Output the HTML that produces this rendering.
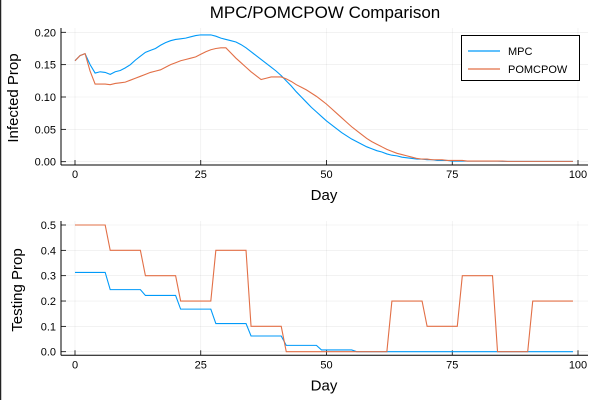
<!DOCTYPE html>
<html><head><meta charset="utf-8"><style>
html,body{margin:0;padding:0;background:#fff;}
svg{display:block;font-family:"Liberation Sans","DejaVu Sans",sans-serif;}
</style></head><body>
<svg id="c" width="600" height="400" viewBox="0 0 600 400">
<rect x="0" y="0" width="600" height="400" fill="#fff"/>
<line x1="0.5" y1="0" x2="0.5" y2="400" stroke="#222" stroke-width="1.5"/>
<text x="325" y="18" font-size="17" text-anchor="middle" fill="#000">MPC/POMCPOW Comparison</text>
</svg>
<script>
const days = Array.from({length:100},(_,i)=>i);
const mpcInfected = [.156,.164,.167,.150,.137,.139,.138,.135,.139,.141,.145,.150,.157,.163,.169,.172,.175,.180,.184,.187,.189,.190,.191,.193,.195,.196,.196,.196,.194,.191,.189,.187,.185,.181,.176,.170,.164,.158,.152,.146,.140,.133,.125,.117,.108,.100,.092,.084,.077,.070,.063,.057,.051,.045,.040,.035,.031,.027,.023,.020,.017,.015,.012,.010,.009,.007,.006,.005,.004,.004,.003,.003,.002,.002,.002,.001,.001,.001,.001,.001,.001,.001,.001,.001,.001,.0005,.0005,.0005,.0005,.0005,.0005,.0005,.0005,.0005,.0005,.0005,.0005,.0005,.0005,.0005];
const pomInfected = [.156,.164,.167,.140,.120,.120,.120,.119,.121,.122,.123,.126,.129,.132,.135,.138,.140,.142,.146,.150,.153,.156,.158,.160,.162,.166,.170,.173,.175,.176,.176,.168,.160,.153,.146,.139,.133,.127,.129,.131,.131,.131,.128,.124,.119,.115,.111,.106,.101,.095,.089,.082,.075,.068,.061,.054,.048,.042,.036,.031,.027,.023,.019,.016,.013,.011,.009,.007,.005,.004,.004,.003,.003,.003,.002,.002,.002,.002,.001,.001,.001,.001,.001,.001,.001,.001,.0005,.0005,.0005,.0005,.0005,.0005,.0005,.0005,.0005,.0005,.0005,.0005,.0005,.0005];
const mpcTesting = [].concat(Array(7).fill(.313),Array(7).fill(.245),Array(7).fill(.222),Array(7).fill(.168),Array(7).fill(.111),Array(7).fill(.062),Array(7).fill(.025),Array(7).fill(.007),Array(44).fill(0));
const pomTesting = [].concat(Array(7).fill(.5),Array(7).fill(.4),Array(7).fill(.3),Array(7).fill(.2),Array(7).fill(.4),Array(7).fill(.1),Array(21).fill(0),Array(7).fill(.2),Array(7).fill(.1),Array(7).fill(.3),Array(7).fill(0),Array(9).fill(.2));
const xTicks = [0,25,50,75,100];
const topYTicks = [0,0.05,0.10,0.15,0.20];
const topYLabels = ["0.00","0.05","0.10","0.15","0.20"];
const botYTicks = [0,0.1,0.2,0.3,0.4,0.5];
const botYLabels = ["0.0","0.1","0.2","0.3","0.4","0.5"];
const seriesNames = ["MPC","POMCPOW"];
const colors = ["#009af9","#e26f46"];

const svg = document.getElementById('c');
const NS = 'http://www.w3.org/2000/svg';
function mk(tag, attrs, parent){const e=document.createElementNS(NS,tag);for(const k in attrs)e.setAttribute(k,attrs[k]);(parent||svg).appendChild(e);return e;}
const xs = d => 75 + d*5.03;

function panel(cfg){
  const g = mk('g',{});
  
  
  const ys = v => cfg.y0 + (v - 0)/(cfg.ymax) * (cfg.yTop - cfg.y0);
  xTicks.forEach(t=>{
    const l=mk('line',{x1:xs(t),x2:xs(t),y1:cfg.plotTop,y2:cfg.axisY,stroke:'#000','stroke-opacity':0.08,'stroke-width':0.6},g);
    
    
  });
  cfg.yTicks.forEach((t,i)=>{
    const l=mk('line',{x1:61,x2:588,y1:ys(t),y2:ys(t),stroke:'#000','stroke-opacity':0.08,'stroke-width':0.6},g);
    
    
    const tk=mk('line',{x1:61,x2:66,y1:ys(t),y2:ys(t),stroke:'#000','stroke-width':0.8},g);
    
    
    const tx=mk('text',{x:56,y:ys(t)+4,'font-size':11,'text-anchor':'end',fill:'#000'},g);
    tx.textContent=cfg.yLabels[i];
    
    
  });
  xTicks.forEach(t=>{
    const tk=mk('line',{x1:xs(t),x2:xs(t),y1:cfg.axisY,y2:cfg.axisY-5,stroke:'#000','stroke-width':0.8},g);
    
    
    const tx=mk('text',{x:xs(t),y:cfg.axisY+13,'font-size':11,'text-anchor':'middle',fill:'#000'},g);
    tx.textContent=String(t);
    
    
  });
  const ax=mk('line',{x1:61,x2:588,y1:cfg.axisY,y2:cfg.axisY,stroke:'#000','stroke-width':1},g);
  
  
  const ay=mk('line',{x1:61,x2:61,y1:cfg.plotTop,y2:cfg.axisY,stroke:'#000','stroke-width':1},g);
  
  
  cfg.series.forEach((s,i)=>{
    const p=mk('polyline',{points:s.map((v,d)=>xs(days[d]).toFixed(2)+','+ys(v).toFixed(2)).join(' '),fill:'none',stroke:colors[i],'stroke-width':1.1},g);
    
    
  });
  const xl=mk('text',{x:324,y:cfg.axisY+35,'font-size':15,'text-anchor':'middle',fill:'#000'},g);
  xl.textContent='Day';
  
  
  const yl=mk('text',{x:0,y:0,'font-size':15,'text-anchor':'middle',fill:'#000',transform:`translate(${cfg.ylx},${cfg.yly}) rotate(-90)`},g);
  yl.textContent=cfg.ytitle;
  
  
}

panel({name:'infected-panel',y0:161.7,yTop:32.3,ymax:0.2,plotTop:28,axisY:165,yTicks:topYTicks,yLabels:topYLabels,series:[mpcInfected,pomInfected],lineNames:['mpc-infected-line','pomcpow-infected-line'],ytitle:'Infected Prop',ylx:18,yly:98});
panel({name:'testing-panel',y0:351.7,yTop:225,ymax:0.5,plotTop:221,axisY:355.3,yTicks:botYTicks,yLabels:botYLabels,series:[mpcTesting,pomTesting],lineNames:['mpc-testing-line','pomcpow-testing-line'],ytitle:'Testing Prop',ylx:22,yly:290});

const lg=mk('g',{});


mk('rect',{x:461.5,y:35.5,width:118,height:45,fill:'#fff',stroke:'#000','stroke-width':1},lg);
seriesNames.forEach((n,i)=>{
  const y=51+i*18;
  const e=mk('g',{},lg);
  
  
  mk('line',{x1:468,x2:500,y1:y,y2:y,stroke:colors[i],'stroke-width':1.2},e);
  const t=mk('text',{x:508,y:y+4,'font-size':11,fill:'#000'},e);
  t.textContent=n;
});
</script>
</body></html>
